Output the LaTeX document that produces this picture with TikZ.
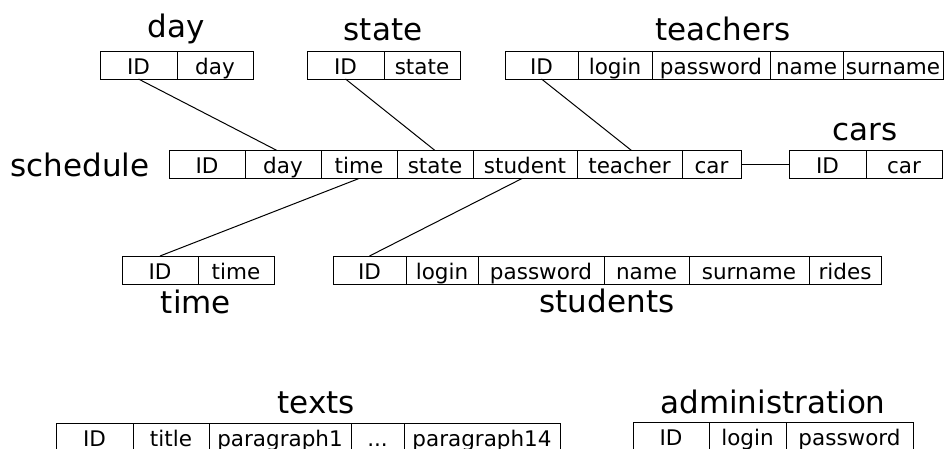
\documentclass[tikz,border=0pt]{standalone}
\usepackage{fontspec}
\setmainfont{DejaVu Sans}
\usetikzlibrary{positioning}

\begin{document}
\begin{tikzpicture}[x=1pt,y=-1pt,line width=1pt]
\tikzstyle{cell}=[draw,inner sep=0pt,outer sep=0pt,minimum height=28pt,text height=18pt,text depth=0pt,font=\fontsize{21.5}{24}\selectfont];
\tikzstyle{title}=[inner sep=0pt,anchor=base,font=\fontsize{31}{36}\selectfont];
\useasboundingbox (0,0) rectangle (947,448);
\clip (0,0) rectangle (947,448);

% day
\node[title] (day) at (176,37) {day};
\node[cell,anchor=west,minimum width=77pt] (day-id) at (100,65) {ID};
\node[cell,right=0pt of day-id,minimum width=76pt] (day-day) {day};

% state
\node[title] (state) at (383,40) {state};
\node[cell,anchor=west,minimum width=77pt] (st-id) at (307,65) {ID};
\node[cell,right=0pt of st-id,minimum width=76pt] (st-state) {state};

% teachers
\node[title] (teachers) at (723,40) {teachers};
\node[cell,anchor=west,minimum width=73pt] (t-id) at (505,65) {ID};
\node[cell,right=0pt of t-id,minimum width=74pt] (t-login) {login};
\node[cell,right=0pt of t-login,minimum width=118pt] (t-pass) {password};
\node[cell,right=0pt of t-pass,minimum width=73pt] (t-name) {name};
\node[cell,right=0pt of t-name,minimum width=100pt] (t-surname) {surname};

% schedule
\node[title] (schedule) at (80,176) {schedule};
\node[cell,anchor=west,minimum width=76pt] (s-id) at (169,164.5) {ID};
\node[cell,right=0pt of s-id,minimum width=76pt] (s-day) {day};
\node[cell,right=0pt of s-day,minimum width=76pt] (s-time) {time};
\node[cell,right=0pt of s-time,minimum width=76pt] (s-state) {state};
\node[cell,right=0pt of s-state,minimum width=104pt] (s-student) {student};
\node[cell,right=0pt of s-student,minimum width=105pt] (s-teacher) {teacher};
\node[cell,right=0pt of s-teacher,minimum width=59pt] (s-car) {car};

% cars
\node[title] (cars) at (865,140) {cars};
\node[cell,anchor=west,minimum width=77pt] (c-id) at (789,164.5) {ID};
\node[cell,right=0pt of c-id,minimum width=76pt] (c-car) {car};

% time
\node[title] (time) at (196,313) {time};
\node[cell,anchor=west,minimum width=76pt] (tm-id) at (122,270) {ID};
\node[cell,right=0pt of tm-id,minimum width=76pt] (tm-time) {time};

% students
\node[title] (students) at (607,312) {students};
\node[cell,anchor=west,minimum width=73pt] (sd-id) at (333,270) {ID};
\node[cell,right=0pt of sd-id,minimum width=72pt] (sd-login) {login};
\node[cell,right=0pt of sd-login,minimum width=126pt] (sd-pass) {password};
\node[cell,right=0pt of sd-pass,minimum width=85pt] (sd-name) {name};
\node[cell,right=0pt of sd-name,minimum width=120pt] (sd-surname) {surname};
\node[cell,right=0pt of sd-surname,minimum width=72pt] (sd-rides) {rides};

% texts
\node[title] (texts) at (316,413) {texts};
\node[cell,anchor=west,minimum width=77pt] (x-id) at (56,437) {ID};
\node[cell,right=0pt of x-id,minimum width=76pt] (x-title) {title};
\node[cell,right=0pt of x-title,minimum width=142pt] (x-p1) {paragraph1};
\node[cell,right=0pt of x-p1,minimum width=53pt] (x-dots) {...};
\node[cell,right=0pt of x-dots,minimum width=156pt] (x-p14) {paragraph14};

% administration
\node[title] (administration) at (773,413) {administration};
\node[cell,anchor=west,minimum width=76pt] (a-id) at (633,436) {ID};
\node[cell,right=0pt of a-id,minimum width=77pt] (a-login) {login};
\node[cell,right=0pt of a-login,minimum width=127pt] (a-pass) {password};

% links
\draw (day-id.south) -- ([xshift=-6pt]s-day.north);
\draw (st-id.south) -- (s-state.north);
\draw (t-id.south) -- ([xshift=2pt]s-teacher.north);
\draw (s-car.east) -- (c-id.west);
\draw (s-time.south) -- (tm-id.north);
\draw ([xshift=-3pt]s-student.south) -- (sd-id.north);
\end{tikzpicture}
\end{document}
